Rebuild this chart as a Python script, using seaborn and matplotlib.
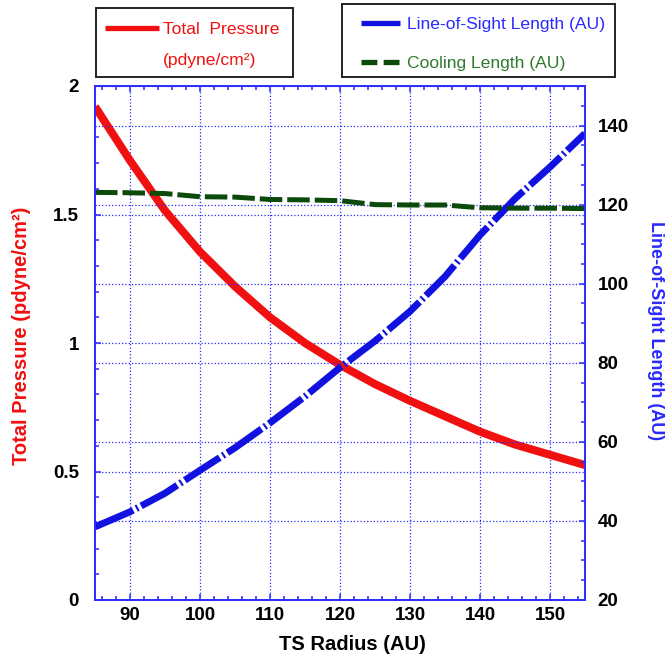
import matplotlib
matplotlib.use("Agg")
import matplotlib.pyplot as plt
import numpy as np
import pandas as pd
import seaborn as sns
from matplotlib.lines import Line2D
from matplotlib.patches import Rectangle
from matplotlib.ticker import MultipleLocator, FuncFormatter

# ---------------- data ----------------
radius = [85, 90, 95, 100, 105, 110, 115, 120, 125, 130, 135, 140, 145, 150, 155]
pressure = [1.92, 1.71, 1.515, 1.355, 1.22, 1.10, 1.00, 0.915, 0.84, 0.775, 0.715, 0.655, 0.605, 0.565, 0.525]
los_length = [38.5, 42.3, 47.0, 52.8, 58.5, 64.8, 71.5, 78.8, 85.5, 93.0, 101.8, 112.3, 121.5, 129.5, 138.0]
cooling_length = [123.1, 123.0, 122.8, 122.0, 121.9, 121.3, 121.2, 121.0, 120.0, 119.9, 119.9, 119.2, 119.1, 119.1, 119.0]

x_label = "TS Radius (AU)"
left_label = "Total Pressure (pdyne/cm²)"
right_label = "Line-of-Sight Length (AU)"
legend_left = ["Total  Pressure", "(pdyne/cm²)"]
legend_right = ["Line-of-Sight Length (AU)", "Cooling Length (AU)"]

RED = "#f01010"
BLUE = "#1212e0"
AXBLUE = "#2a2aff"
GREEN = "#0b4a0b"
GREEN_TXT = "#2f7a2f"

sns.set_style("ticks")
plt.rcParams["font.family"] = ["Liberation Sans", "DejaVu Sans"]
plt.rcParams["font.weight"] = "bold"

df = pd.DataFrame({"radius": radius, "pressure": pressure,
                   "los": los_length, "cool": cooling_length})

W, H = 665, 660
fig = plt.figure(figsize=(W / 100, H / 100), dpi=100)
ax = fig.add_axes([95 / W, 60 / H, 490 / W, 514 / H])
ax2 = ax.twinx()

sns.lineplot(data=df, x="radius", y="pressure", ax=ax, color=RED, lw=5.8,
             legend=False, solid_capstyle="butt", solid_joinstyle="round")
sns.lineplot(data=df, x="radius", y="los", ax=ax2, color=BLUE, lw=5.0,
             linestyle=(0, (6, 0.5, 0.3, 0.5)), legend=False)
sns.lineplot(data=df, x="radius", y="cool", ax=ax2, color=GREEN, lw=3.6,
             linestyle=(0, (4.5, 1.0)), legend=False)

ax.set_xlim(85, 155)
ax.set_ylim(0, 2)
ax2.set_ylim(20, 150)

ax.xaxis.set_major_locator(MultipleLocator(10))
ax.xaxis.set_minor_locator(MultipleLocator(2))
ax.yaxis.set_major_locator(MultipleLocator(0.5))
ax.yaxis.set_minor_locator(MultipleLocator(0.1))
ax2.yaxis.set_major_locator(MultipleLocator(20))
ax2.yaxis.set_minor_locator(MultipleLocator(5))
ax.yaxis.set_major_formatter(FuncFormatter(lambda v, p: f"{v:g}"))
ax2.yaxis.set_major_formatter(FuncFormatter(lambda v, p: f"{v:g}"))

for a in (ax, ax2):
    for s in a.spines.values():
        s.set_color(AXBLUE)
        s.set_linewidth(1.2)

ax.tick_params(axis="x", which="both", direction="in", top=True, bottom=True,
               color=AXBLUE, labelcolor="black", labelsize=13.5, pad=4.7)
ax.tick_params(axis="y", which="both", direction="in", left=True, right=False,
               color=AXBLUE, labelcolor="black", labelsize=13.5, pad=11.5)
ax2.tick_params(axis="y", which="both", direction="in", right=True, left=False,
                color=AXBLUE, labelcolor="black", labelsize=13.5, pad=9)
for a in (ax, ax2):
    a.tick_params(which="major", length=4.5, width=1.1)
    a.tick_params(which="minor", length=3.0, width=1.1)

ax.grid(True, which="major", axis="both", color=AXBLUE, linestyle=":", linewidth=0.9)
ax2.grid(True, which="major", axis="y", color=AXBLUE, linestyle=":", linewidth=0.9)
ax2.grid(False, axis="x")

ax.set_xlabel(x_label, fontsize=14.5, fontweight="bold", color="black",
              va="center", ha="center")
ax.xaxis.set_label_coords((352 - 95) / 490, (600 - 645) / 514)
ax.set_ylabel(left_label, fontsize=14.5, fontweight="bold", color=RED,
              va="center", ha="center", rotation=90)
ax.yaxis.set_label_coords((21.5 - 95) / 490, (600 - 336) / 514)
ax2.set_ylabel(right_label, fontsize=13, fontweight="bold", color=AXBLUE,
               va="center", ha="center", rotation=270)
ax2.yaxis.set_label_coords((655 - 95) / 490, (600 - 331) / 514)

# ---------------- legends ----------------
leg_font = {"family": ["Liberation Sans", "DejaVu Sans"], "weight": "normal", "size": 12.6}
h_red = [Line2D([], [], color=RED, lw=3.8, solid_capstyle="butt"),
         Line2D([], [], color="none", lw=0)]
leg1 = fig.legend(h_red, legend_left, loc="upper left",
                  bbox_to_anchor=(105 / W, 1 - 22 / H), frameon=False,
                  borderpad=0, borderaxespad=0, prop=leg_font,
                  handlelength=3.09, handletextpad=0.23, labelspacing=0.86,
                  labelcolor=[RED, RED])
h_right = [Line2D([], [], color=BLUE, lw=3.8, solid_capstyle="butt"),
           Line2D([], [], color=GREEN, lw=3.8, linestyle=(0, (3.0, 1.2)),
                  dash_capstyle="butt")]
leg2 = fig.legend(h_right, legend_right, loc="upper left",
                  bbox_to_anchor=(361 / W, 1 - 17 / H), frameon=False,
                  borderpad=0, borderaxespad=0, prop=leg_font,
                  handlelength=2.23, handletextpad=0.4, labelspacing=1.37,
                  labelcolor=[AXBLUE, GREEN_TXT])

fig.add_artist(Rectangle((96 / W, 1 - 77 / H), (293 - 96) / W, (77 - 8) / H,
                         transform=fig.transFigure, fill=False,
                         edgecolor="#222222", lw=1.4))
fig.add_artist(Rectangle((342 / W, 1 - 77 / H), (615 - 342) / W, (77 - 4) / H,
                         transform=fig.transFigure, fill=False,
                         edgecolor="#222222", lw=1.4))

fig.savefig("out.png", dpi=100)
